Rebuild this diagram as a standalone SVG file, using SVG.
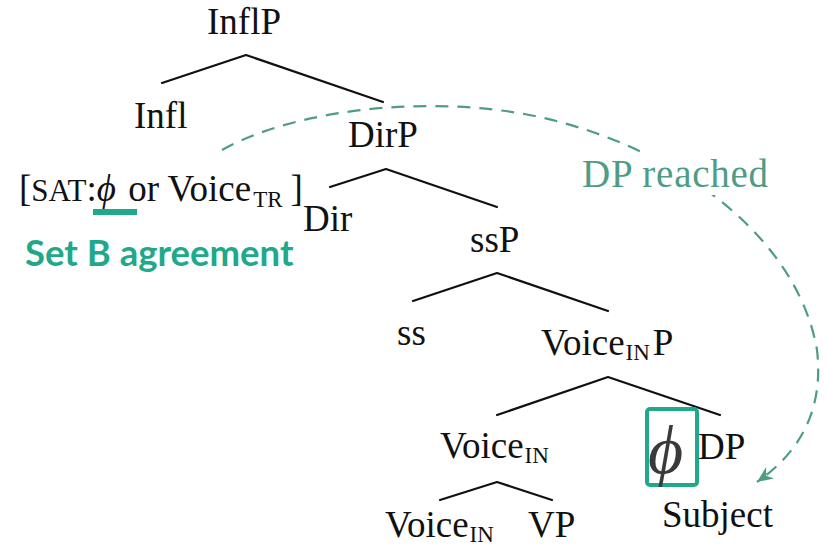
<svg xmlns="http://www.w3.org/2000/svg" width="827" height="553" viewBox="0 0 827 553">
<defs>
<style>
.t{font-family:"Liberation Serif","DejaVu Serif",serif;font-size:37px;fill:#111}
.sub{font-size:23px}
.sc{font-size:31px}
.br{stroke:#111;stroke-width:2.2;fill:none;stroke-linecap:round;stroke-linejoin:round}
.dash{stroke:#4e9c86;stroke-width:2.2;fill:none;stroke-dasharray:13 9}
.teal{fill:#1fa98a}
</style>
<marker id="ah" viewBox="0 0 20 20" refX="18" refY="10" markerWidth="20" markerHeight="20" markerUnits="userSpaceOnUse" orient="auto">
<path d="M2,3 L18,10 L2,17 L7,10 Z" fill="#4e9c86"/>
</marker>
</defs>
<g id="connectors">
<polyline class="br" points="162,83 246,55 383,102"/>
<polyline class="br" points="330,187 386,169 497,207"/>
<polyline class="br" points="413,301 497,273 608,311"/>
<polyline class="br" points="497,415 608,377 720,415"/>
<polyline class="br" points="440,500 497,482 552,500"/>
<path class="dash" d="M222,150 C300,106 450,92 560,122 C700,160 800,250 817,350 C824,410 800,452 757,482" marker-end="url(#ah)"/>
</g>
<g id="n-dpreached">
<rect x="578" y="153" width="196" height="42" fill="#fff"/>
<text x="582" y="187" style="font-family:'Liberation Serif','DejaVu Serif',serif;font-size:39px;fill:#4e9c86" textLength="186">DP reached</text>
</g>
<g id="n-inflp"><text class="t" x="207" y="34">InflP</text></g>
<g id="n-infl"><text class="t" x="134" y="128">Infl</text></g>
<g id="n-dirp"><text class="t" x="348" y="147">DirP</text></g>
<g id="n-feature">
<text class="t" x="19" y="201">[<tspan class="sc">SAT</tspan>:<tspan font-style="italic">ϕ</tspan><tspan dx="3"> or Voice</tspan><tspan class="sub" dx="2" dy="6">TR</tspan><tspan dx="8" dy="-6">]</tspan></text>
<rect class="teal" x="93" y="209" width="44" height="6"/>
</g>
<g id="n-setb"><text x="25" y="266" style="font-family:Lato,'Noto Sans',sans-serif;font-weight:bold;font-size:36.5px;fill:#1fa98a">Set B agreement</text></g>
<g id="n-dir"><text class="t" x="303" y="231">Dir</text></g>
<g id="n-ssp"><text class="t" x="470" y="252">ssP</text></g>
<g id="n-ss"><text class="t" x="397" y="345">ss</text></g>
<g id="n-voiceinp"><text class="t" x="541" y="355">Voice<tspan class="sub" dx="1" dy="5">IN</tspan><tspan dx="3" dy="-5">P</tspan></text></g>
<g id="n-voicein"><text class="t" x="440" y="458">Voice<tspan class="sub" dx="1" dy="5">IN</tspan></text></g>
<g id="n-dp">
<rect x="647" y="409" width="50" height="76" rx="3" fill="none" stroke="#1fa98a" stroke-width="4"/>
<text x="648" y="473" style="font-family:'Liberation Serif','DejaVu Serif',serif;font-size:68px;font-style:italic;fill:#3a3a3a">ϕ</text>
<text class="t" x="698" y="459">DP</text>
</g>
<g id="n-subject"><text class="t" x="662" y="527">Subject</text></g>
<g id="n-voicein2"><text class="t" x="385" y="537">Voice<tspan class="sub" dx="1" dy="5">IN</tspan></text></g>
<g id="n-vp"><text class="t" x="528" y="537">VP</text></g>
</svg>
